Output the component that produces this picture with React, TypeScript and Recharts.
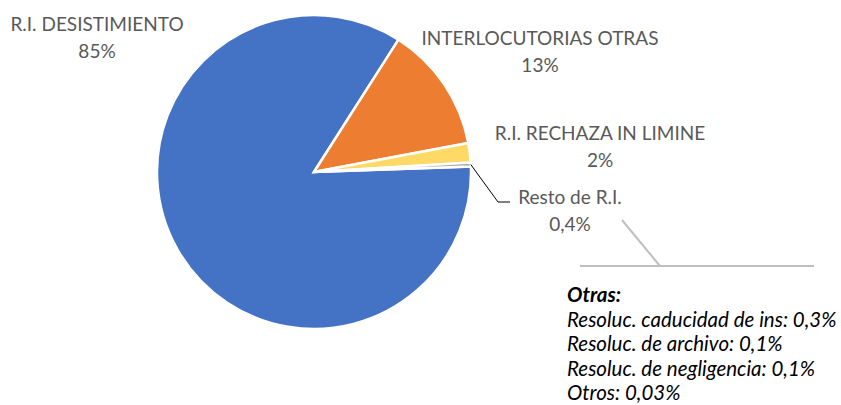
import React from "react";
import { PieChart, Pie, Cell } from "recharts";

const categories = ["R.I. DESISTIMIENTO", "INTERLOCUTORIAS OTRAS", "R.I. RECHAZA IN LIMINE", "Resto de R.I."];
const values = [84.6, 13.0, 2.0, 0.4];
const pctLabels = ["85%", "13%", "2%", "0,4%"];
const otrasTitle = "Otras:";
const otrasItems = [
  "Resoluc. caducidad de ins: 0,3%",
  "Resoluc. de archivo: 0,1%",
  "Resoluc. de negligencia: 0,1%",
  "Otros: 0,03%",
];

const colors = ["#4472C4", "#ED7D31", "#FFD966", "#A5A5A5"];
const FONT = "Lato, 'Liberation Sans', sans-serif";

// label layout (center x, baseline of first line)
const labelLayout = [
  { x: 97, y: 31 },
  { x: 540, y: 45 },
  { x: 600, y: 140 },
  { x: 570, y: 204 },
];
const LINE_GAP = 26.5;

const data = categories.map((name, i) => ({ name, value: values[i], pct: pctLabels[i] }));

const RADIAN = Math.PI / 180;

const renderLabel = (props: any) => {
  const { index, cx, cy, midAngle, outerRadius } = props;
  const lay = labelLayout[index];
  const d = data[index];
  const extras: React.ReactNode[] = [];
  if (index === 3) {
    const sx = cx + outerRadius * Math.cos(-midAngle * RADIAN);
    const sy = cy + outerRadius * Math.sin(-midAngle * RADIAN);
    extras.push(
      <polyline
        key="leader"
        points={`${sx},${sy} ${lay.x - 72},${lay.y - 2} ${lay.x - 60},${lay.y - 2}`}
        fill="none"
        stroke="#000"
        strokeWidth={1}
      />
    );
    extras.push(
      <polyline
        key="otrasline"
        points={`${lay.x + 52},${lay.y + 16} ${lay.x + 90},${lay.y + 62}`}
        fill="none"
        stroke="#BFBFBF"
        strokeWidth={2}
      />
    );
    extras.push(
      <line key="otrash" x1={lay.x + 10} y1={lay.y + 62} x2={lay.x + 244} y2={lay.y + 62} stroke="#BFBFBF" strokeWidth={2} />
    );
    extras.push(
      <text key="otras" x={567} y={302} fontFamily={FONT} fontSize={20.5} fill="#000" fontStyle="italic">
        <tspan x={567} y={302} fontWeight="bold">{otrasTitle}</tspan>
        {otrasItems.map((t, i) => (
          <tspan key={i} x={567} y={302 + (i + 1) * 24.6}>{t}</tspan>
        ))}
      </text>
    );
  }
  return (
    <g>
      {extras}
      <text x={lay.x} y={lay.y} textAnchor="middle" fontFamily={FONT} fontSize={19} fill="#595959">
        {d.name}
      </text>
      <text x={lay.x} y={lay.y + LINE_GAP} textAnchor="middle" fontFamily={FONT} fontSize={19} fill="#595959">
        {d.pct}
      </text>
    </g>
  );
};

export default function App() {
  return (
    <div style={{ position: "absolute", left: 0, top: 0, width: 841, height: 405, background: "#fff" }}>
      <PieChart width={841} height={405} margin={{ top: 0, right: 0, bottom: 0, left: 0 }}>
        <Pie
          data={data}
          dataKey="value"
          nameKey="name"
          cx={314}
          cy={172}
          outerRadius={157}
          innerRadius={0}
          startAngle={2}
          endAngle={-358}
          stroke="#fff"
          strokeWidth={2.5}
          label={renderLabel}
          labelLine={false}
          isAnimationActive={false}
        >
          {data.map((_, i) => (
            <Cell key={i} fill={colors[i]} />
          ))}
        </Pie>
      </PieChart>
    </div>
  );
}
